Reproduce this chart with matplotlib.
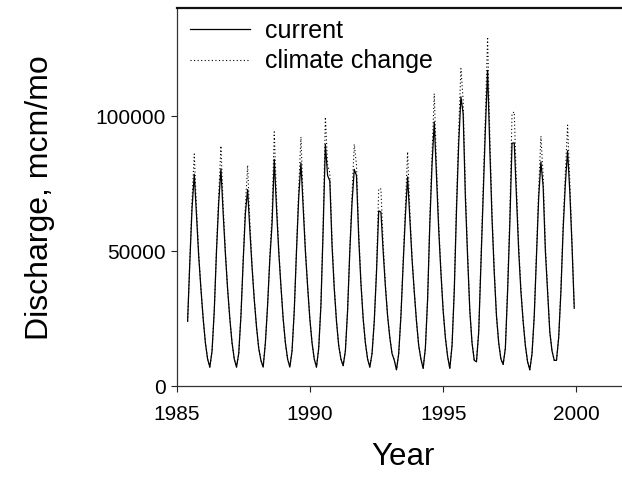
import numpy as np
import matplotlib
matplotlib.use("Agg")
import matplotlib.pyplot as plt

plt.rcParams["font.family"] = ["Liberation Sans", "DejaVu Sans"]

# ── Data (monthly discharge, mcm/mo), June 1985 .. December 1999 ──────────────
START = 1985 + 5 / 12   # June 1985

current = [
    24000, 46000, 66000, 78500, 63000, 48000, 36000,                                  # 1985 Jun-Dec
    25000, 16000, 10000, 7000, 13000, 28000, 50000, 68000, 80500, 64000, 49000, 36000,  # 1986
    25000, 16000, 10000, 7000, 12000, 26000, 46000, 64000, 72800, 58000, 44000, 32000,  # 1987
    22000, 14000, 9500, 7000, 16000, 30000, 47000, 60000, 84000, 66000, 50000, 37000,   # 1988
    25000, 16000, 10000, 7000, 13000, 28000, 50000, 70000, 82700, 66000, 50000, 37000,  # 1989
    25000, 16000, 10000, 7000, 14000, 30000, 58000, 89600, 78000, 76000, 52000, 36000,  # 1990
    24000, 15000, 10000, 7500, 13000, 28000, 50000, 68000, 80300, 78000, 55000, 38000,  # 1991
    25000, 16000, 10000, 7000, 12000, 24000, 42000, 64900, 64500, 50000, 37000, 26000,  # 1992
    18000, 12000, 9600, 6000, 12000, 26000, 45000, 63000, 77500, 62000, 47000, 35000,   # 1993
    24000, 15000, 10000, 6500, 14000, 32000, 60000, 82000, 97900, 78000, 58000, 42000,  # 1994
    28000, 18000, 11000, 6500, 15000, 35000, 65000, 90000, 107200, 101000, 70000, 48000,  # 1995
    28000, 16000, 9500, 9000, 20000, 45000, 70000, 95000, 117000, 88000, 62000, 42000,  # 1996
    26000, 16000, 10000, 8000, 14000, 35000, 60000, 90000, 90100, 70000, 50000, 35000,  # 1997
    24000, 15000, 9000, 6000, 12000, 26000, 48000, 70000, 83100, 74000, 50000, 35000,   # 1998
    20000, 13000, 9500, 9500, 18000, 35000, 58000, 75000, 87200, 72000, 52000, 28800,   # 1999
]

climate = [
    24000, 47000, 69000, 86000, 66000, 49000, 36000,                                  # 1985 Jun-Dec
    25000, 16000, 10000, 7000, 13000, 28000, 51000, 71000, 89000, 67000, 50000, 36000,  # 1986
    25000, 16000, 10000, 7000, 12000, 26000, 47000, 67000, 81800, 61000, 45000, 32000,  # 1987
    22000, 14000, 9500, 7000, 16000, 30000, 48000, 64000, 94200, 70000, 51000, 37000,   # 1988
    25000, 16000, 10000, 7000, 13000, 28000, 51000, 73000, 92300, 69000, 51000, 37000,  # 1989
    25000, 16000, 10000, 7000, 14000, 30000, 60000, 99700, 82000, 79000, 54000, 37000,  # 1990
    24000, 15000, 10000, 7500, 13000, 28000, 51000, 71000, 89600, 82000, 57000, 39000,  # 1991
    25000, 16000, 10000, 7000, 12000, 24000, 43000, 73200, 73000, 53000, 38000, 26000,  # 1992
    18000, 12000, 9600, 6000, 12000, 26000, 46000, 66000, 86800, 65000, 48000, 35000,   # 1993
    24000, 15000, 10000, 6500, 14000, 32000, 62000, 86000, 108400, 82000, 60000, 43000,  # 1994
    28000, 18000, 11000, 6500, 15000, 36000, 68000, 95000, 117700, 106000, 73000, 49000,  # 1995
    28000, 16000, 9500, 9000, 20000, 46000, 73000, 100000, 129400, 93000, 64000, 43000,  # 1996
    26000, 16000, 10000, 8000, 14000, 36000, 63000, 101000, 101600, 74000, 52000, 36000,  # 1997
    24000, 15000, 9000, 6000, 12000, 26000, 49000, 73000, 92600, 78000, 52000, 36000,   # 1998
    20000, 13000, 9500, 9500, 18000, 36000, 60000, 79000, 96700, 76000, 53000, 29500,   # 1999
]

x_ticks = [1985, 1990, 1995, 2000]
y_ticks = [0, 50000, 100000]

# ── Figure ────────────────────────────────────────────────────────────────────
W, H = 622, 491
fig = plt.figure(figsize=(W / 100, H / 100), dpi=100)

ax_l, ax_r = 176.5, 629.8      # pixel edges (right edge falls just outside)
ax_t, ax_b = 8.3, 386.0
ax = fig.add_axes([ax_l / W, 1 - ax_b / H, (ax_r - ax_l) / W, (ax_b - ax_t) / H])

t = START + np.arange(len(current)) / 12

ax.plot(t, climate, color="black", lw=0.8, ls=(0, (1, 2.2)), label="climate change")
ax.plot(t, current, color="black", lw=0.9, label="current")

ax.set_xlim(1985, 2002)
ax.set_ylim(0, 140000)
ax.set_xticks(x_ticks)
ax.set_yticks(y_ticks)
ax.tick_params(direction="out", length=4, width=0.8, labelsize=15,
               colors="#222222", labelcolor="black")
ax.tick_params(axis="x", pad=10)
ax.tick_params(axis="y", pad=4)

for side in ("left", "bottom"):
    ax.spines[side].set_linewidth(0.9)
    ax.spines[side].set_color("#333333")
ax.spines["top"].set_linewidth(1.6)
ax.spines["top"].set_color("#111111")
ax.spines["right"].set_visible(False)

ax.set_xlabel("Year", fontsize=22.5)
ax.set_ylabel("Discharge, mcm/mo", fontsize=23)
ax.xaxis.set_label_coords(0.5, -0.148)
ax.yaxis.set_label_coords(-0.268, 0.5)

h, l = ax.get_legend_handles_labels()
ax.legend(h[::-1], l[::-1], loc="upper left", frameon=False, fontsize=18,
          bbox_to_anchor=((186.5 - ax_l) / (ax_r - ax_l), 1 - 7 / (ax_b - ax_t)),
          borderaxespad=0, borderpad=0.15, handlelength=2.4,
          handletextpad=0.6, labelspacing=0.25)

fig.savefig("out.png", dpi=100)
